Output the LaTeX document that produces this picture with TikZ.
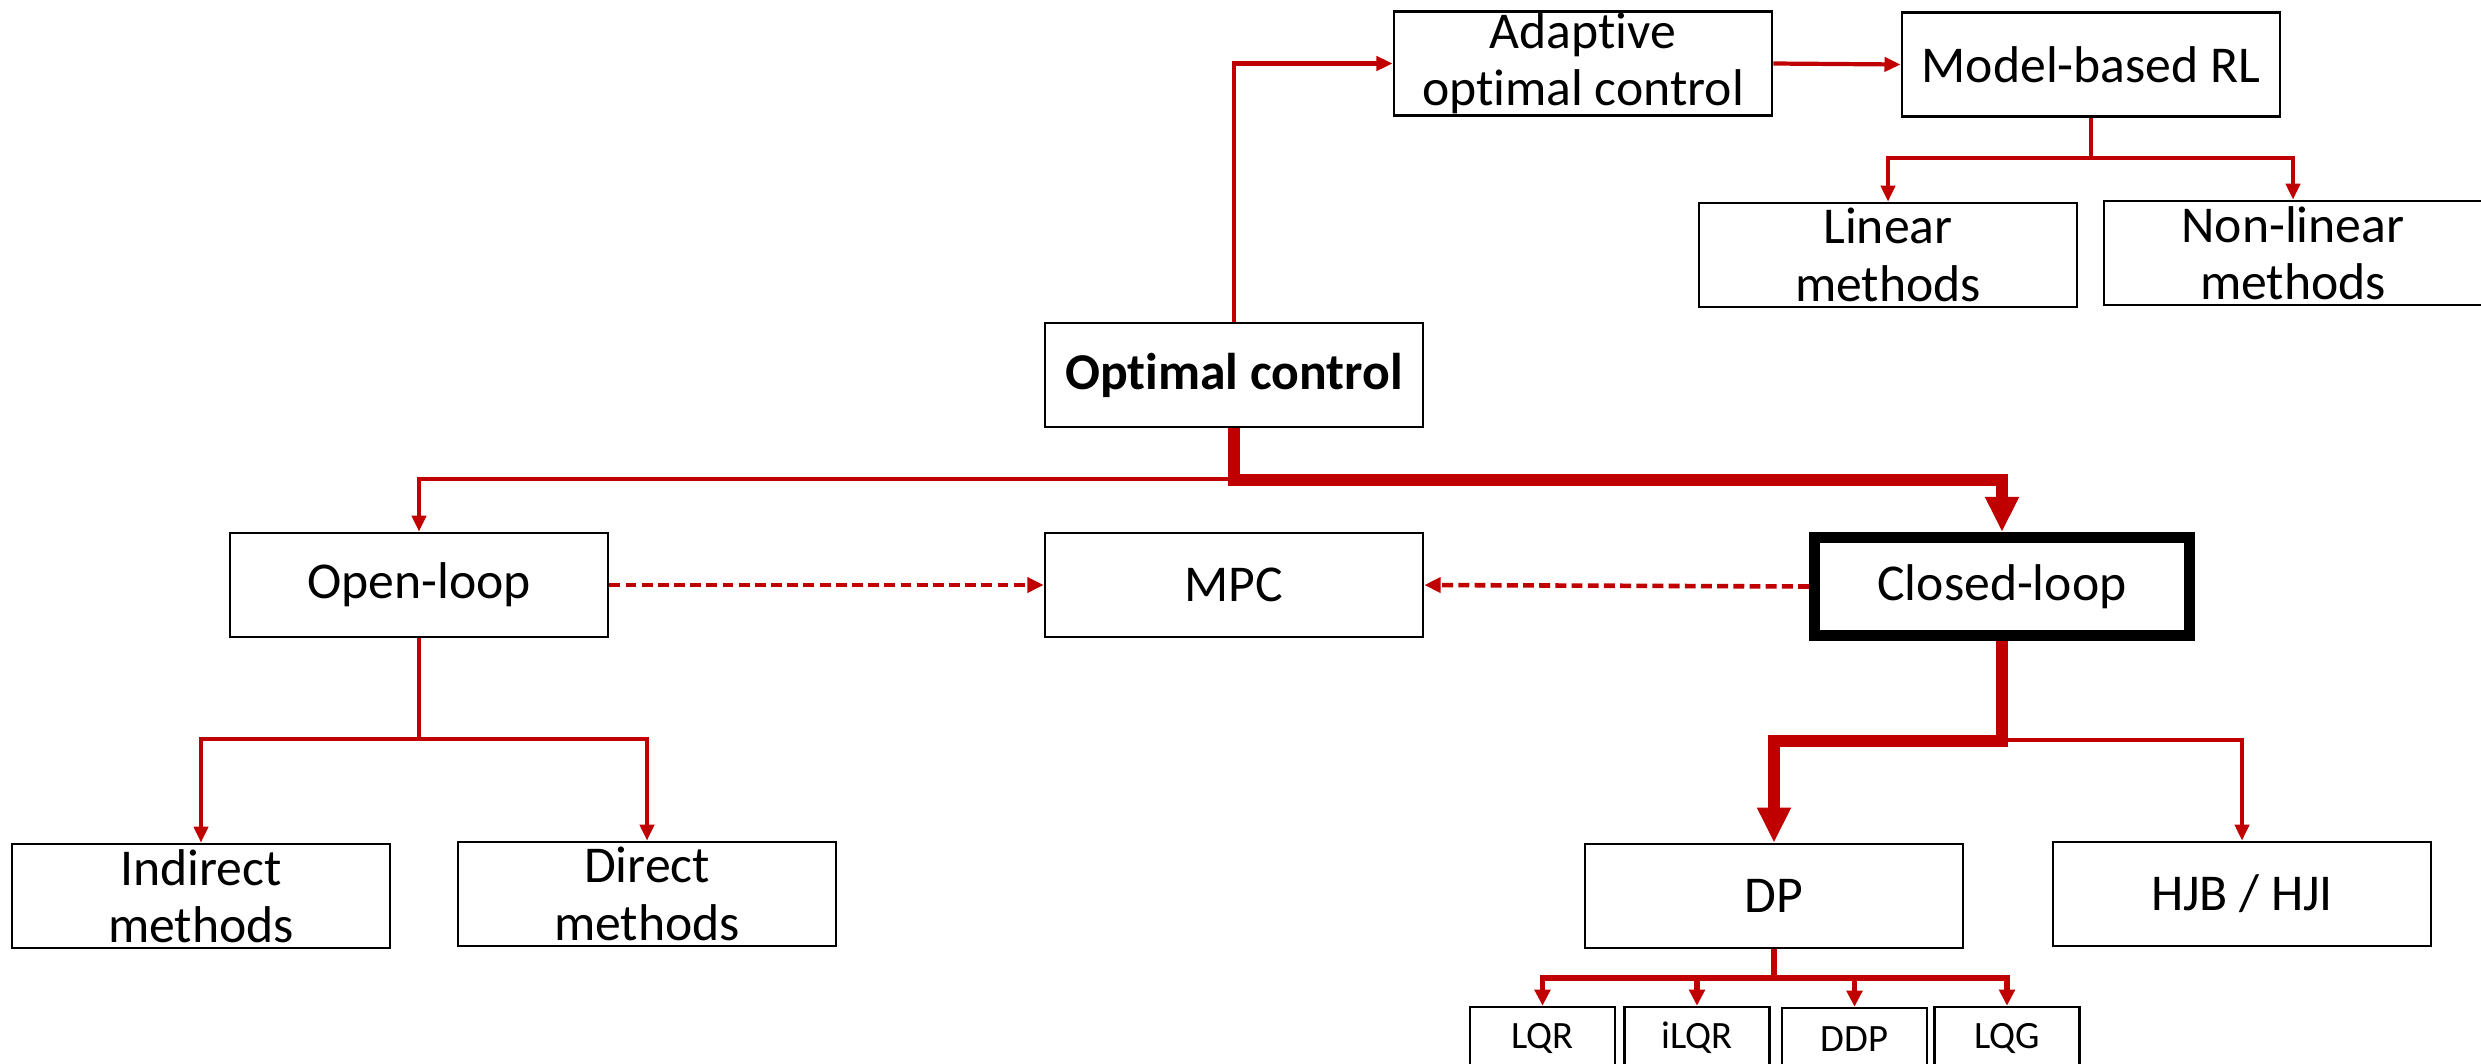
\documentclass[tikz,border=0pt]{standalone}
\usepackage{fontspec}
\setmainfont[Ligatures={NoCommon}]{Carlito}
\usetikzlibrary{arrows.meta}
\definecolor{lnred}{HTML}{C00000}
\begin{document}
\begin{tikzpicture}[x=0.01cm,y=-0.01cm,
 box/.style={draw=black,line width=0.7pt,minimum width=3.78cm,minimum height=1.04cm,align=center,inner sep=0pt,fill=white,font=\fontsize{14.7}{16.3}\selectfont},
 smallbox/.style={box,minimum width=1.45cm,minimum height=0.62cm,font=\fontsize{11}{13}\selectfont},
 thickbox/.style={box,line width=3.1pt,minimum width=3.75cm,minimum height=0.98cm},
 thinln/.style={draw=lnred,line width=1.2pt,-{Triangle[length=4.6pt,width=4pt]}},
 medln/.style={draw=lnred,line width=1.5pt,-{Triangle[length=4.6pt,width=4.4pt]}},
 thickln/.style={draw=lnred,line width=3.4pt,-{Triangle[length=10pt,width=9pt]}},
 dashln/.style={draw=lnred,line width=1.3pt,dash pattern=on 3.1pt off 1.5pt,-{Triangle[length=4.6pt,width=4.2pt]}},
]
\useasboundingbox (0,0) rectangle (2481,1063);
\clip (0,0) rectangle (2481,1063);
\fill[white] (0,0) rectangle (2481,1063);

% nodes
\node[box] (aoc) at (1583,63.5) {Adaptive\\optimal control};
\node[box] (mrl) at (2091,64.5) {Model-based RL};
\node[box] (lin) at (1888,255) {Linear\\methods};
\node[box] (nlin) at (2293,253) {Non-linear\\methods};
\node[box] (oc) at (1234,375) {\textbf{Optimal control}};
\node[box] (ol) at (419,585) {Open-loop};
\node[box] (mpc) at (1234,585) {MPC};
\node[thickbox] (cl) at (2002,586.5) {Closed-loop};
\node[box] (ind) at (201,896) {Indirect\\methods};
\node[box] (dir) at (647,894) {Direct\\methods};
\node[box] (dp) at (1774,896) {DP};
\node[box] (hjb) at (2242,894) {HJB / HJI};
\node[smallbox] (lqr) at (1542.5,1038) {LQR};
\node[smallbox] (ilqr) at (1697,1038) {iLQR};
\node[smallbox] (ddp) at (1854.5,1039) {DDP};
\node[smallbox] (lqg) at (2007,1038) {LQG};

% connectors
\draw[thinln] (oc.north) |- (aoc.west);
\draw[thinln] (aoc.east) -- (mrl.west);
\draw[thinln] (mrl.south) -- (mrl.south |- 0,158) -| (lin.north);
\draw[thinln] (mrl.south) -- (mrl.south |- 0,158) -| (nlin.north);

\draw[thinln] (oc.south |- 0,479) -| (ol.north);
\draw[thickln] (oc.south) -- (oc.south |- 0,480) -| (cl.north);

\draw[dashln] (ol.east) -- (mpc.west);
\draw[dashln] (cl.west) -- (mpc.east);

\draw[thinln] (ol.south) -- (ol.south |- 0,739) -| (ind.north);
\draw[thinln] (ol.south) -- (ol.south |- 0,739) -| (dir.north);

\draw[thinln] (cl.south |- 0,740) -| (hjb.north);
\draw[thickln] (cl.south) -- (cl.south |- 0,741) -| (dp.north);

\foreach \n in {lqr,ilqr,ddp,lqg}
  \draw[medln] (dp.south) -- (dp.south |- 0,978) -| (\n.north);
\end{tikzpicture}
\end{document}
